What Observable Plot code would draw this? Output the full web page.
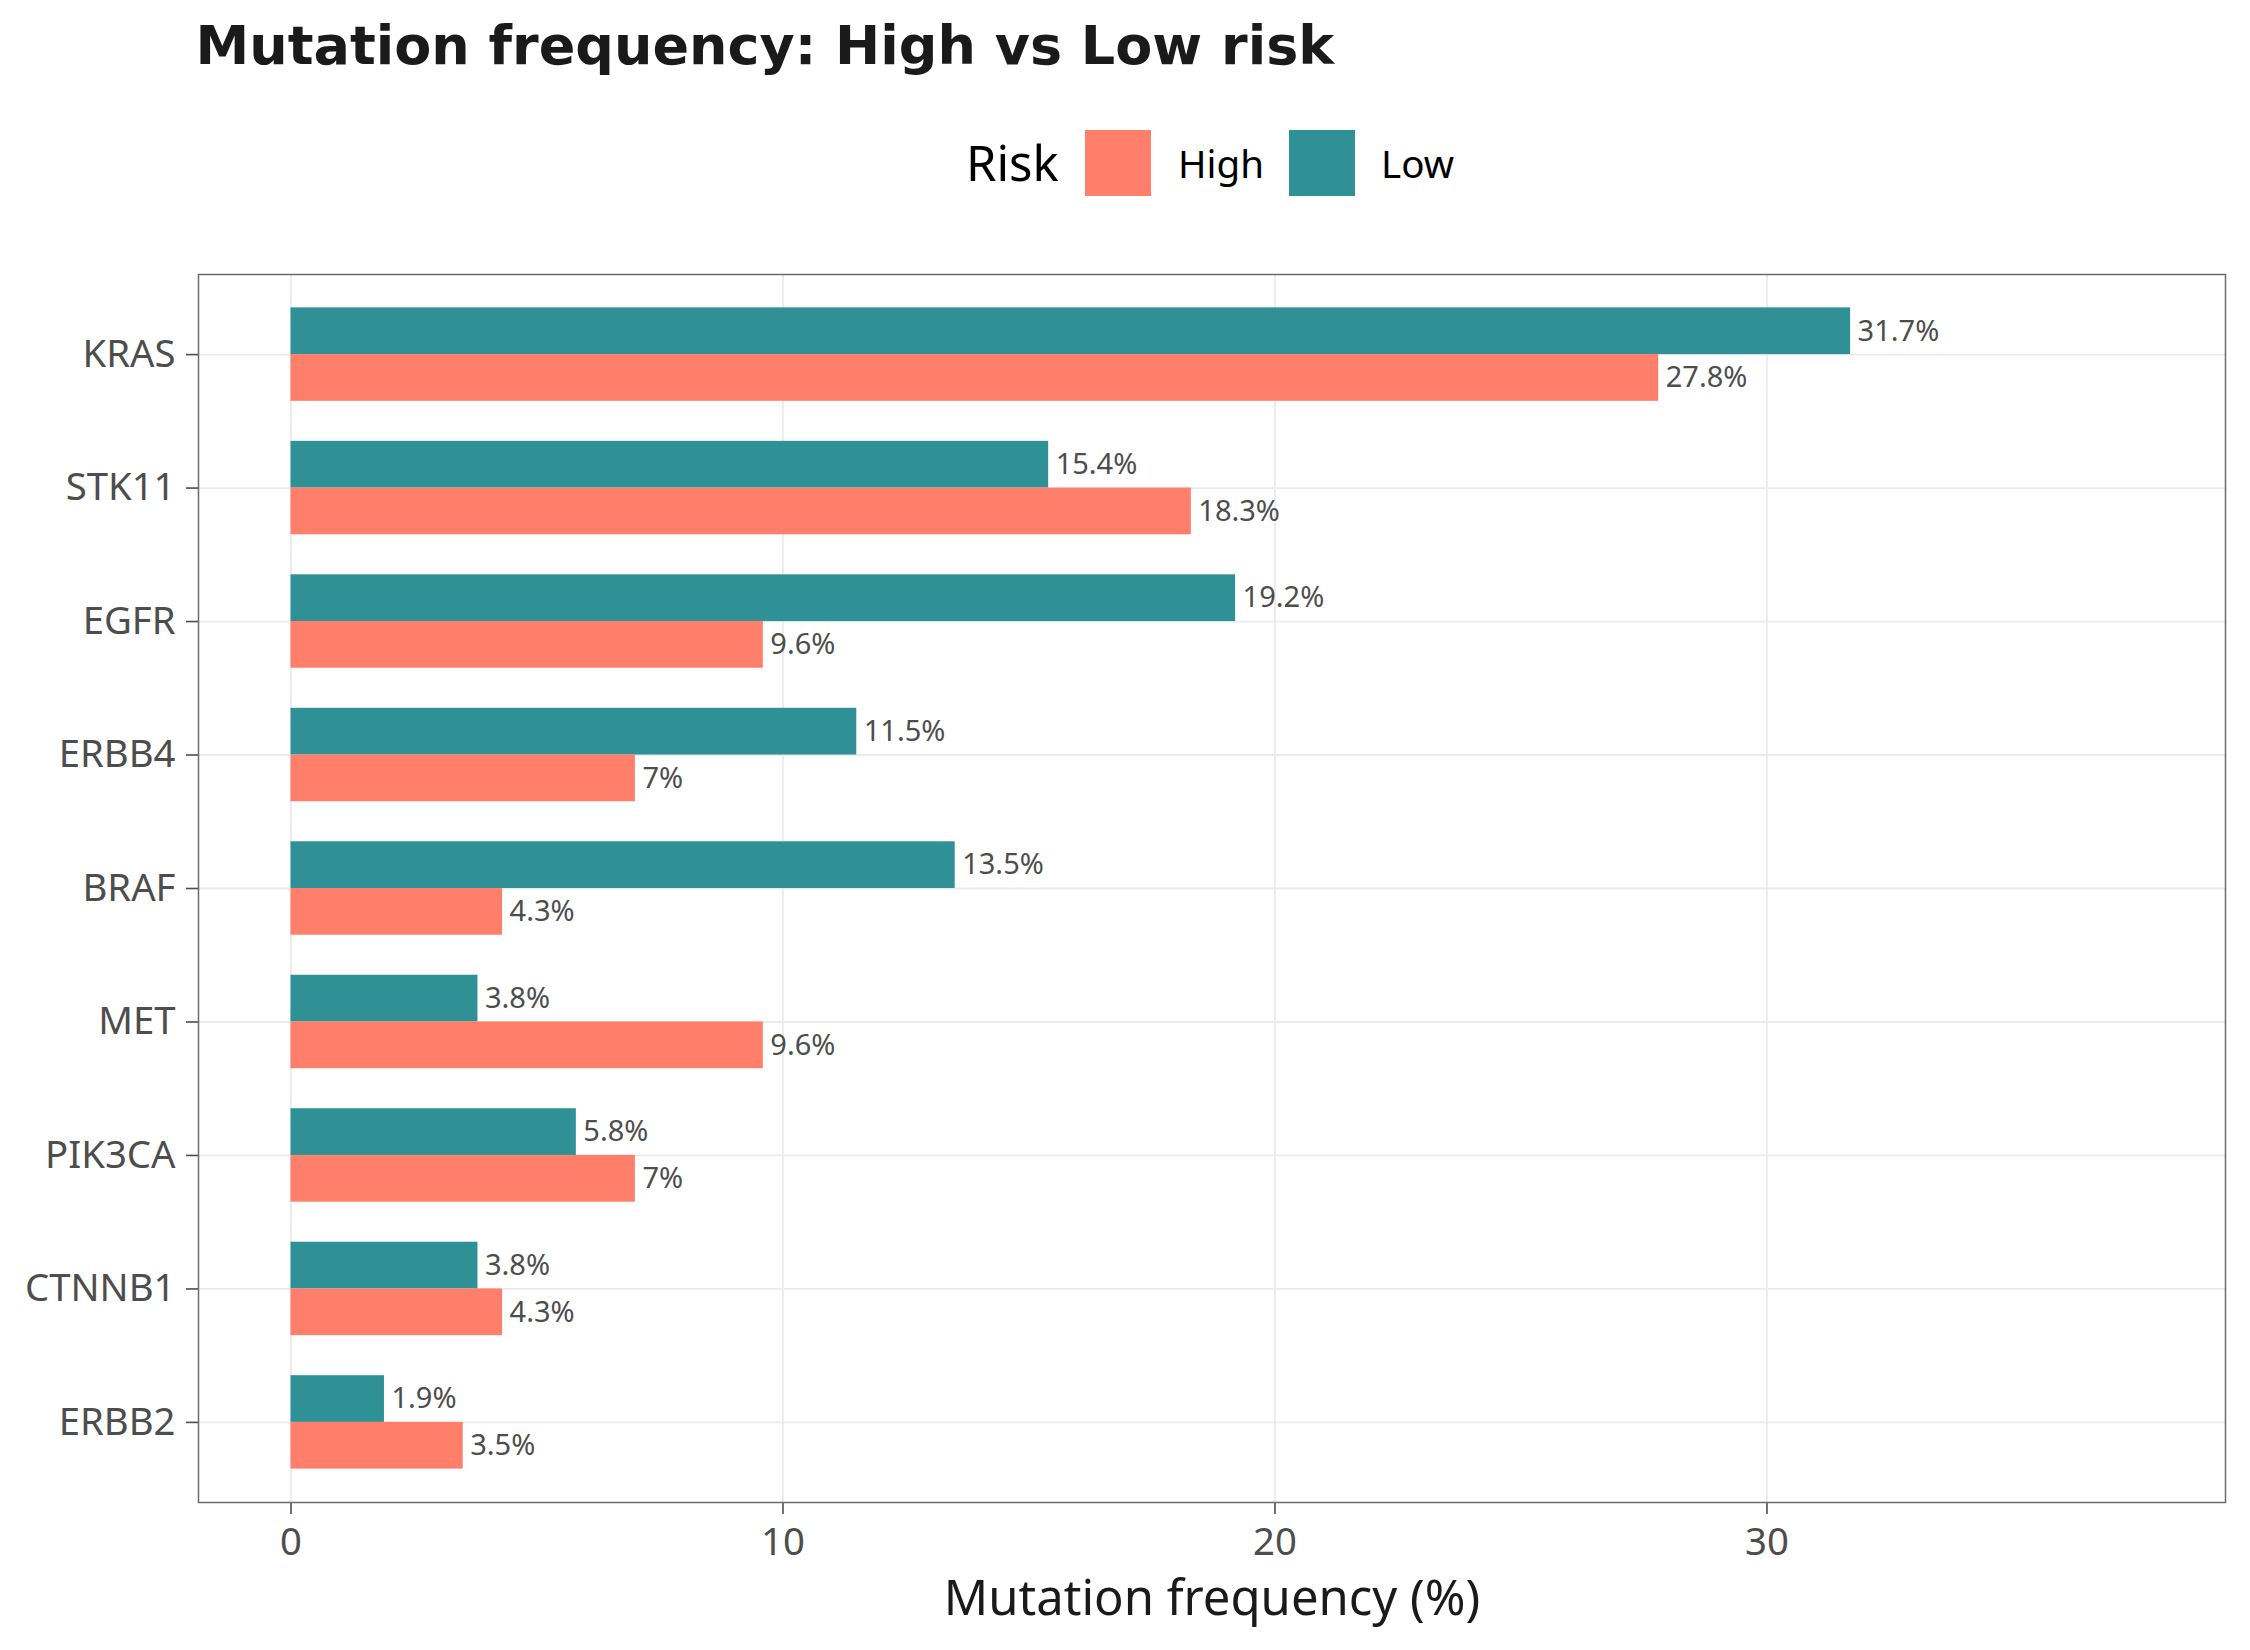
<!DOCTYPE html>
<html><head><meta charset="utf-8">
<script src="https://cdn.jsdelivr.net/npm/d3@7"></script>
<script src="https://cdn.jsdelivr.net/npm/@observablehq/plot@0.6"></script>
<style>
html,body{margin:0;padding:0;background:#fff;}
body{width:2250px;height:1650px;position:relative;overflow:hidden;font-family:"Noto Sans",sans-serif;}
.abs{position:absolute;white-space:nowrap;line-height:1;}
#title{left:195.5px;top:19.3px;font-family:"DejaVu Sans",sans-serif;font-weight:bold;font-size:54px;color:#1a1a1a;}
#chart{position:absolute;left:0;top:220px;}
.sw{position:absolute;width:66px;height:66px;top:130px;}
</style></head><body>
<div id="title" class="abs">Mutation frequency: High vs Low risk</div>
<div id="legend"></div>
<div id="chart"></div>
<script>
// ---- data ----
const genes = ["KRAS","STK11","EGFR","ERBB4","BRAF","MET","PIK3CA","CTNNB1","ERBB2"];
const highRisk = [27.8, 18.3, 9.6, 7.0, 4.3, 9.6, 7.0, 4.3, 3.5];
const lowRisk  = [31.7, 15.4, 19.2, 11.5, 13.5, 3.8, 5.8, 3.8, 1.9];
const riskLevels = ["High", "Low"];
const riskColors = ["#FF7F6A", "#2F9196"];
const xTicks = [0, 10, 20, 30];
const xLimits = [-1.88, 39.32];

// ---- derived table (dodged bars, ggplot width 0.7) ----
const half = 0.35;
const rows = genes.flatMap((g, i) => [
  {gene: g, idx: i, risk: "Low",  value: lowRisk[i]},
  {gene: g, idx: i, risk: "High", value: highRisk[i]}
]).map(d => {
  const y1 = d.risk === "Low" ? d.idx - half : d.idx;
  return {...d, y1, y2: y1 + half, ym: y1 + half / 2};
});

// ---- legend ----
const legend = document.getElementById("legend");
const lt = document.createElement("div");
lt.className = "abs"; lt.textContent = "Risk";
Object.assign(lt.style, {left: "966px", top: "138px", fontSize: "49px", color: "#000"});
legend.appendChild(lt);
const swLeft = [1085, 1289], txLeft = [1178, 1381];
riskLevels.forEach((r, i) => {
  const s = document.createElement("div");
  s.className = "sw"; s.style.left = swLeft[i] + "px"; s.style.background = riskColors[i];
  legend.appendChild(s);
  const t = document.createElement("div");
  t.className = "abs"; t.textContent = r;
  Object.assign(t.style, {left: txLeft[i] + "px", top: "143.7px", fontSize: "38.5px", color: "#000"});
  legend.appendChild(t);
});

// ---- chart ----
const chart = Plot.plot({
  width: 2250, height: 1430,
  marginTop: 54, marginBottom: 148, marginLeft: 198, marginRight: 25,
  style: {fontFamily: "Noto Sans", background: "#fff"},
  x: {domain: xLimits},
  y: {domain: [-0.6, genes.length - 1 + 0.6], reverse: true},
  color: {domain: riskLevels, range: riskColors},
  marks: [
    Plot.gridX({ticks: xTicks, stroke: "#EBEBEB", strokeOpacity: 1, strokeWidth: 1.8}),
    Plot.gridY({ticks: d3.range(genes.length), stroke: "#EBEBEB", strokeOpacity: 1, strokeWidth: 1.8}),
    Plot.rect(rows, {x1: () => 0, x2: "value", y1: "y1", y2: "y2", fill: "risk"}),
    Plot.text(rows, {x: "value", y: "ym", text: d => `${+d.value.toFixed(1)}%`, dx: 7,
      textAnchor: "start", fontSize: 29, fill: "#4D4D4D"}),
    Plot.axisY({ticks: d3.range(genes.length), tickFormat: i => genes[i], tickSize: 12, tickPadding: 11,
      fontSize: 38.3, fill: "#4D4D4D", stroke: "#4D4D4D", strokeWidth: 1.6, label: null}),
    Plot.axisX({ticks: xTicks, tickSize: 12, tickPadding: 13, fontSize: 38.3,
      fill: "#4D4D4D", stroke: "#4D4D4D", strokeWidth: 1.6, label: null}),
    Plot.axisX({ticks: [], label: "Mutation frequency (%)", labelAnchor: "center", labelArrow: "none",
      labelOffset: 112, fontSize: 49, fill: "#1a1a1a"}),
    Plot.frame({stroke: "#6b6b6b", strokeWidth: 1.5})
  ]
});
document.getElementById("chart").appendChild(chart);
</script>
</body></html>
